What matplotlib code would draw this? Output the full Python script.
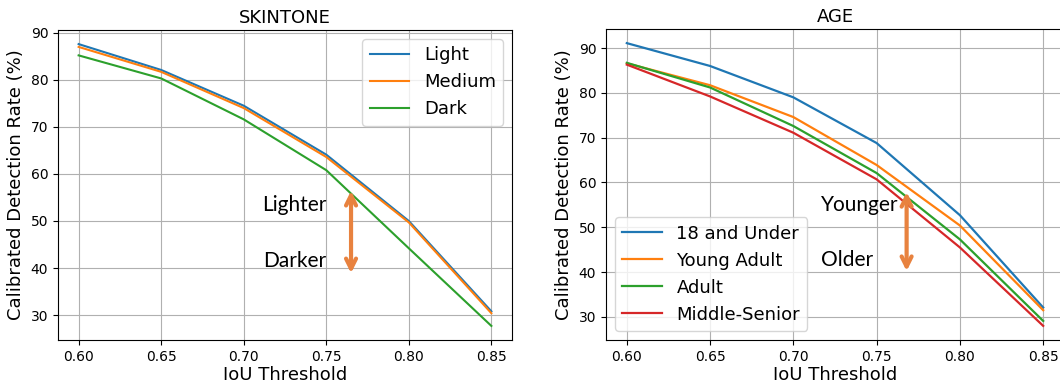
import numpy as np
import matplotlib
matplotlib.use("Agg")
import matplotlib.pyplot as plt

iou = [0.60, 0.65, 0.70, 0.75, 0.80, 0.85]

# skintone
light = [87.6, 82.1, 74.5, 64.1, 50.0, 30.8]
medium = [87.0, 81.7, 74.0, 63.6, 49.7, 30.4]
dark = [85.2, 80.3, 71.6, 60.8, 44.2, 27.7]

# age
under18 = [91.1, 86.0, 79.0, 68.8, 52.7, 32.1]
young_adult = [86.6, 81.7, 74.6, 63.9, 50.4, 31.5]
adult = [86.7, 81.2, 72.6, 62.1, 47.3, 29.1]
middle_senior = [86.3, 79.2, 71.1, 60.7, 45.5, 28.0]

arrow_color = "#E8823F"
note_font = ["Lato", "DejaVu Sans"]

fig = plt.figure(figsize=(10.6, 3.88), dpi=100)
ax1 = fig.add_axes([58 / 1060, 48 / 388, 454 / 1060, 310 / 388])
ax2 = fig.add_axes([606 / 1060, 48 / 388, 458 / 1060, 311 / 388])

# left panel
ax1.plot(iou, light, color="tab:blue", lw=1.5, label="Light")
ax1.plot(iou, medium, color="tab:orange", lw=1.5, label="Medium")
ax1.plot(iou, dark, color="tab:green", lw=1.5, label="Dark")
ax1.set_title("SKINTONE", fontsize=13, pad=5)
ax1.legend(loc="upper right", fontsize=13, handlelength=2.2)
ax1.annotate("", xy=(0.765, 57.0), xytext=(0.765, 38.3),
             arrowprops=dict(arrowstyle="<->", color=arrow_color, lw=3, mutation_scale=18))
ax1.text(0.750, 53.5, "Lighter", ha="right", va="center", fontsize=15, family=note_font)
ax1.text(0.750, 41.5, "Darker", ha="right", va="center", fontsize=15, family=note_font)

# right panel
ax2.plot(iou, under18, color="tab:blue", lw=1.6, label="18 and Under")
ax2.plot(iou, young_adult, color="tab:orange", lw=1.6, label="Young Adult")
ax2.plot(iou, adult, color="tab:green", lw=1.6, label="Adult")
ax2.plot(iou, middle_senior, color="tab:red", lw=1.6, label="Middle-Senior")
ax2.set_title("AGE", fontsize=13, pad=5)
ax2.legend(loc="lower left", fontsize=13, handlelength=2.2)
ax2.annotate("", xy=(0.768, 58.5), xytext=(0.768, 39.6),
             arrowprops=dict(arrowstyle="<->", color=arrow_color, lw=3, mutation_scale=18))
ax2.text(0.7165, 55.0, "Younger", ha="left", va="center", fontsize=15, family=note_font)
ax2.text(0.7165, 42.7, "Older", ha="left", va="center", fontsize=15, family=note_font)

for ax in (ax1, ax2):
    ax.set_xticks(iou)
    ax.set_xticklabels([f"{v:.2f}" for v in iou])
    ax.set_xlabel("IoU Threshold", fontsize=13, labelpad=2)
    ax.set_ylabel("Calibrated Detection Rate (%)", fontsize=13)
    ax.tick_params(labelsize=10)
    ax.grid(True)

fig.savefig("out.png", dpi=100)
